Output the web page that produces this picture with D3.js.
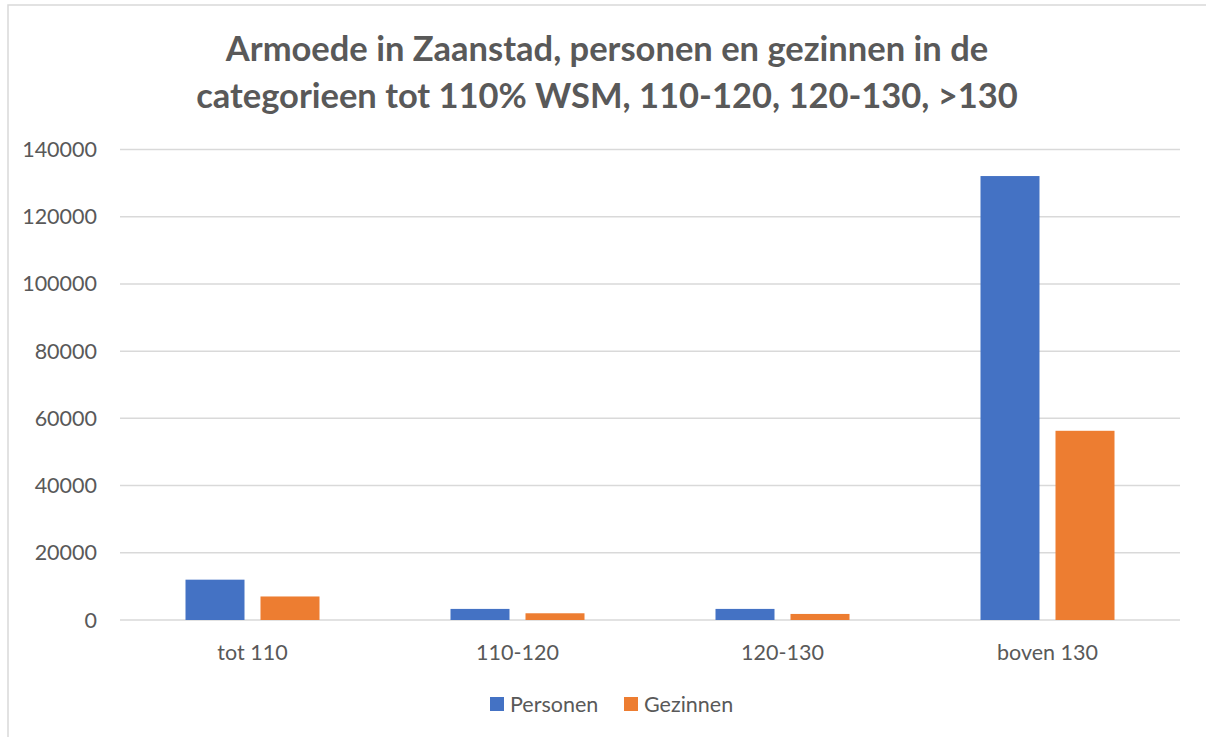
<!DOCTYPE html>
<html lang="nl">
<head>
<meta charset="UTF-8">
<title>Armoede in Zaanstad</title>
<script src="https://cdn.jsdelivr.net/npm/d3@7"></script>
<style>
    body{margin:0;background:#fff;}
    svg{display:block;font-family:Lato, "Open Sans", sans-serif;}
</style>
</head>
<body>
<script>
    const categories = ["tot 110", "110-120", "120-130", "boven 130"]
    const series = ["Personen", "Gezinnen"]
    const personen = [12000, 3300, 3300, 132100]
    const gezinnen = [7000, 2000, 1800, 56300]
    const yTicks = [0, 20000, 40000, 60000, 80000, 100000, 120000, 140000]
    const titleLines = ["Armoede in Zaanstad, personen en gezinnen in de", "categorieen tot 110% WSM, 110-120, 120-130, >130"]
    const colors = ["#4472c4", "#ed7d31"]

    const width = 1206, height = 737
    const margin = {left: 120, right: 26, top: 149.5, bottom: 117}

    let svg = d3.select("body").append("svg")
        .attr("width", width).attr("height", height)

    // chart frame
    svg.append("rect")
        .attr("x", 8).attr("y", 5)
        .attr("width", width + 20).attr("height", height + 20)
        .attr("fill", "#fff").attr("stroke", "#d9d9d9").attr("stroke-width", 1.5)

    let x0 = d3.scaleBand().domain(categories)
        .range([margin.left, width - margin.right]).padding(0)
    let groupW = 134
    let x1 = d3.scaleBand().domain(series).range([0, groupW]).paddingInner(0.2133)
    let y = d3.scaleLinear().domain([0, 140000]).range([height - margin.bottom, margin.top])

    // gridlines
    svg.append("g").selectAll("line").data(yTicks).enter().append("line")
        .attr("x1", margin.left).attr("x2", width - margin.right)
        .attr("y1", d => y(d)).attr("y2", d => y(d))
        .attr("stroke", "#d9d9d9").attr("stroke-width", 1.5)

    svg.append("g").selectAll("text").data(yTicks).enter().append("text")
        .attr("x", 97).attr("y", d => y(d)).attr("dy", "0.35em")
        .attr("text-anchor", "end").attr("font-size", 21.5).attr("fill", "#595959")
        .text(d => d)

    let rows = categories.map((c, i) => ({cat: c, vals: [personen[i], gezinnen[i]]}))

    let gCat = svg.append("g").selectAll("g").data(rows).enter().append("g")
        .attr("transform", d => `translate(${x0(d.cat) + (x0.bandwidth() - groupW) / 2},0)`)

    gCat.selectAll("rect").data(d => d.vals.map((v, j) => ({s: series[j], v: v, j: j}))).enter()
        .append("rect")
        .attr("x", d => x1(d.s)).attr("width", x1.bandwidth())
        .attr("y", d => y(d.v)).attr("height", d => y(0) - y(d.v))
        .attr("fill", d => colors[d.j])

    // category labels
    svg.append("g").selectAll("text").data(categories).enter().append("text")
        .attr("x", d => x0(d) + x0.bandwidth() / 2).attr("y", 660)
        .attr("text-anchor", "middle").attr("font-size", 21.5).attr("fill", "#595959")
        .text(d => d)

    // title
    svg.append("g").selectAll("text").data(titleLines).enter().append("text")
        .attr("x", 607).attr("y", (d, i) => 61 + i * 47)
        .attr("text-anchor", "middle").attr("font-size", 34.5).attr("font-weight", "bold")
        .attr("fill", "#595959")
        .text(d => d)

    // legend
    let legX = [490, 624]
    let leg = svg.append("g").selectAll("g").data(series).enter().append("g")
        .attr("transform", (d, i) => `translate(${legX[i]},697)`)
    leg.append("rect").attr("width", 14).attr("height", 14).attr("fill", (d, i) => colors[i])
    leg.append("text").attr("x", 20).attr("y", 7).attr("dy", "0.35em")
        .attr("font-size", 21.5).attr("fill", "#595959").text(d => d)
</script>
</body>
</html>
